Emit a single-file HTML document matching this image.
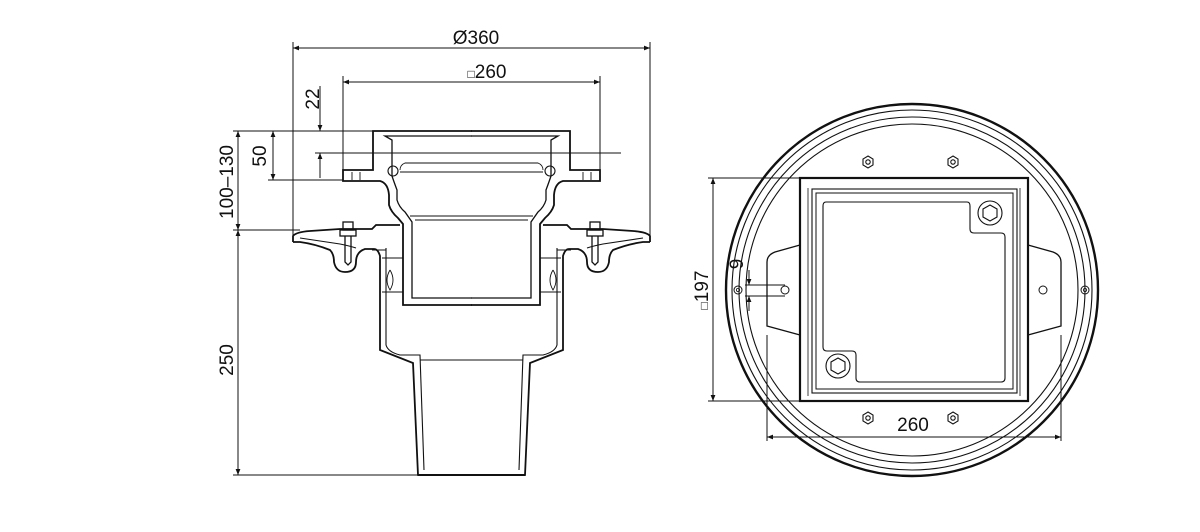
<!DOCTYPE html>
<html><head><meta charset="utf-8"><style>
html,body{margin:0;padding:0;background:#fff}
svg{display:block}
text{font-family:"Liberation Sans",sans-serif;fill:#111}
</style></head><body>
<svg width="1200" height="532" viewBox="0 0 1200 532" xmlns="http://www.w3.org/2000/svg">
<defs>
<marker id="a" viewBox="0 0 10 10" refX="10" refY="5" markerWidth="9" markerHeight="6" orient="auto-start-reverse" markerUnits="userSpaceOnUse"><path d="M0,1 L10,5 L0,9 z" fill="#111"/></marker>
<g id="half" fill="none" stroke="#111" stroke-width="1.8">
  <path d="M472 131 H373 V170 H343 V181 H380 Q388 183 389 195 V205 Q391 212 398 218 L403 224 V305 H472"/>
  <path d="M472 136 H385 L392 140 V176 Q394 182 397 190 V200 Q399 207 405 212 L412 222 V298 H472" stroke-width="1.3"/>
  <path d="M472 153 H322" stroke-width="0.9"/>
  <path d="M472 163 H405 Q400 165 400 170 M400 172 H472" stroke-width="0.9"/>
  <circle cx="393" cy="171" r="5" stroke-width="1.1"/>
  <path d="M472 216 H410 M472 220 H415" stroke-width="0.9"/>
  <path d="M352 172 V180 M360 172 V180" stroke-width="0.9"/>
  <path d="M293 242 V236 Q296 232 310 231 L340 229 H372 L376 225 H400" />
  <path d="M293 242 H300 Q315 244 330 250 Q334 254 334 262 Q336 272 345 272 Q356 272 356 262 Q356 252 365 249 H374 Q378 249 380 256 V350 L413 363 L418 475 H472"/>
  <path d="M300 238 L340 244 Q350 246 356 248" stroke-width="1.1"/>
  <path d="M386 248 V345 Q388 352 400 355 H420 L424 470 M420 360 H472" stroke-width="1.1"/>
  <path d="M386 250 H372 M382 258 H403 M382 292 H403" stroke-width="0.9"/>
  <path d="M390 270 Q384 280 390 290 Q396 280 390 270" stroke-width="0.9"/>
  <path d="M418 475 H472" stroke-width="2"/>
  <rect x="343" y="222" width="10" height="8" stroke-width="1.3"/>
  <rect x="340" y="230" width="16" height="6" stroke-width="1.3"/>
  <path d="M345 236 V262 L348 265 L351 262 V236" stroke-width="1.3"/>
</g>
</defs>

<use href="#half"/>
<use href="#half" transform="translate(943,0) scale(-1,1)"/>

<g stroke="#111" stroke-width="1" fill="none">
  <path d="M293 42 V242 M650 42 V242"/>
  <path d="M293 48 H650" marker-start="url(#a)" marker-end="url(#a)"/>
  <path d="M343 76 V180 M600 76 V180"/>
  <path d="M343 82 H600" marker-start="url(#a)" marker-end="url(#a)"/>
  <path d="M233 131 H380 M268 180 H343 M233 230 H300 M233 475 H420 M315 153 H372"/>
  <path d="M238 131 V230" marker-start="url(#a)" marker-end="url(#a)"/>
  <path d="M238 230 V475" marker-start="url(#a)" marker-end="url(#a)"/>
  <path d="M273 131 V180" marker-start="url(#a)" marker-end="url(#a)"/>
  <path d="M320 86 V131" marker-end="url(#a)"/>
  <path d="M320 178 V153" marker-end="url(#a)"/>
</g>
<text x="476" y="44" font-size="19" text-anchor="middle">Ø360</text>
<text x="487" y="78" font-size="19" text-anchor="middle"><tspan font-size="12">□</tspan>260</text>
<text transform="translate(319,99) rotate(-90)" font-size="19" text-anchor="middle">22</text>
<text transform="translate(266,156) rotate(-90)" font-size="19" text-anchor="middle">50</text>
<text transform="translate(233,182) rotate(-90)" font-size="19" text-anchor="middle">100–130</text>
<text transform="translate(233,360) rotate(-90)" font-size="19" text-anchor="middle">250</text>

<g fill="none" stroke="#111">
  <circle cx="912" cy="290" r="186" stroke-width="2.4"/>
  <circle cx="912" cy="290" r="180" stroke-width="1.1"/>
  <circle cx="912" cy="290" r="173" stroke-width="1.1"/>
  <circle cx="912" cy="290" r="166" stroke-width="1.1"/>
  <path d="M800 245 L775 252 Q767 255 767 262 V326 L800 335" fill="#fff" stroke-width="1.3"/>
  <path d="M1028 245 L1053 252 Q1061 255 1061 262 V326 L1028 335" fill="#fff" stroke-width="1.3"/>
  <rect x="800" y="178" width="228" height="223" fill="#fff" stroke-width="2.2"/>
  <rect x="812" y="189" width="205" height="204" stroke-width="1.1"/>
  <rect x="816" y="193" width="197" height="196" stroke-width="1"/>
  <path d="M808 188 V396 M1020 188 V396" stroke-width="0.8"/>
  <path d="M826 202 H967 Q970 202 970 206 V229 Q970 233 974 233 H1001 Q1005 233 1005 237 V378 Q1005 382 1001 382 H860 Q856 382 856 378 V355 Q856 351 852 351 H827 Q823 351 823 347 V206 Q823 202 826 202 Z" stroke-width="1.1"/>
  <circle cx="990" cy="213" r="12" stroke-width="1.1"/>
  <path d="M990 205 L997 209 V217 L990 221 L983 217 V209 Z" stroke-width="1.1"/>
  <circle cx="838" cy="366" r="12" stroke-width="1.1"/>
  <path d="M838 358 L845 362 V370 L838 374 L831 370 V362 Z" stroke-width="1.1"/>
  <g stroke-width="1.1">
    <path d="M868 156 L873 159 V165 L868 168 L863 165 V159 Z"/><circle cx="868" cy="162" r="2.2"/>
    <path d="M953 156 L958 159 V165 L953 168 L948 165 V159 Z"/><circle cx="953" cy="162" r="2.2"/>
    <path d="M868 412 L873 415 V421 L868 424 L863 421 V415 Z"/><circle cx="868" cy="418" r="2.2"/>
    <path d="M953 412 L958 415 V421 L953 424 L948 421 V415 Z"/><circle cx="953" cy="418" r="2.2"/>
  </g>
  <circle cx="785" cy="290" r="4" stroke-width="1"/>
  <circle cx="1043" cy="290" r="4" stroke-width="1"/>
  <circle cx="738" cy="290" r="4" stroke-width="1"/><circle cx="738" cy="290" r="1.6" stroke-width="0.8"/>
  <circle cx="1085" cy="290" r="4" stroke-width="1"/><circle cx="1085" cy="290" r="1.6" stroke-width="0.8"/>
</g>
<g stroke="#111" stroke-width="1" fill="none">
  <path d="M708 178 H800 M708 401 H800"/>
  <path d="M713 178 V401" marker-start="url(#a)" marker-end="url(#a)"/>
  <path d="M745 285 H785 M745 296 H785"/>
  <path d="M749 270 V285" marker-end="url(#a)"/>
  <path d="M749 311 V296" marker-end="url(#a)"/>
  <path d="M767 335 V441 M1061 335 V441"/>
  <path d="M767 437 H1061" marker-start="url(#a)" marker-end="url(#a)"/>
</g>
<text transform="translate(708,290) rotate(-90)" font-size="19" text-anchor="middle"><tspan font-size="12">□</tspan>197</text>
<text transform="translate(743,264) rotate(-90)" font-size="19" text-anchor="middle">9</text>
<text x="913" y="431" font-size="19" text-anchor="middle">260</text>
</svg>
</body></html>
